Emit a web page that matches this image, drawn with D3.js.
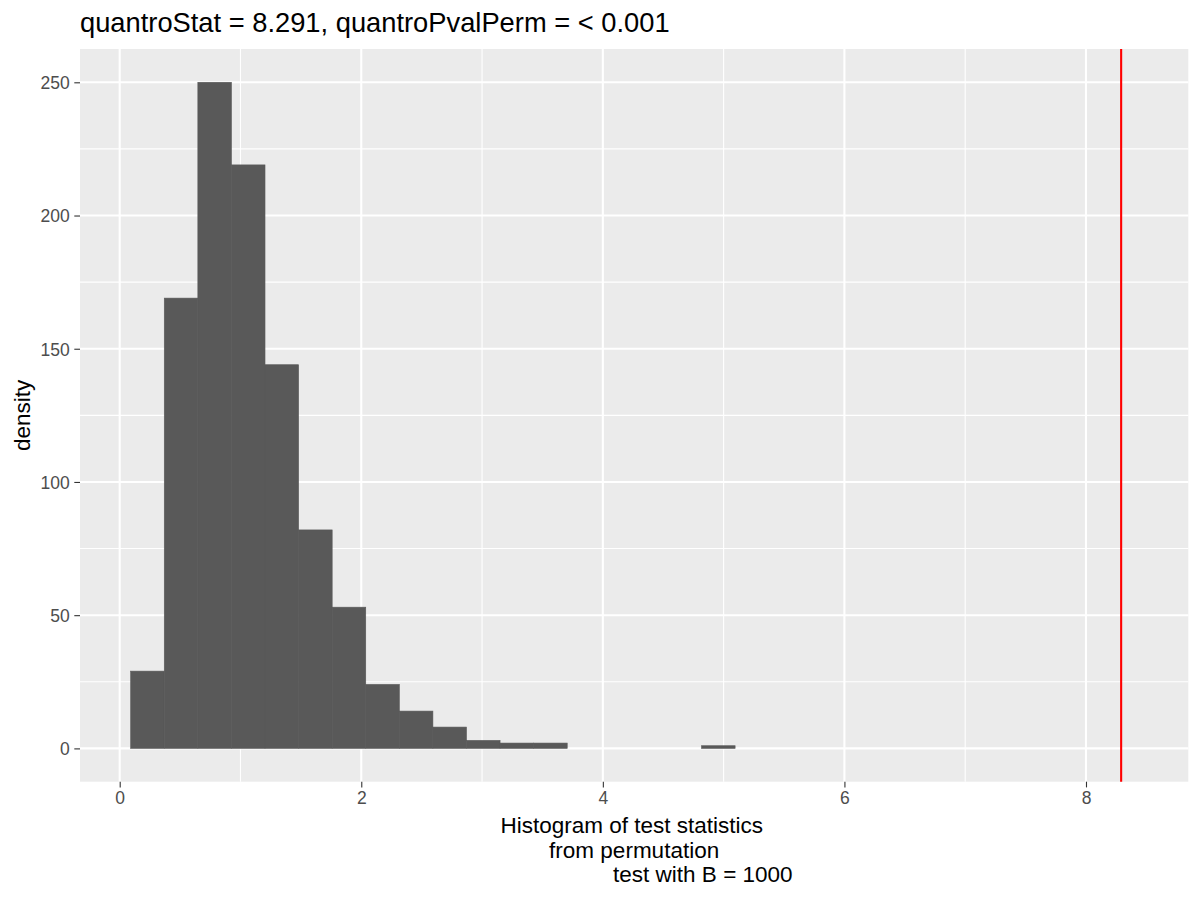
<!DOCTYPE html>
<html>
<head>
<meta charset="utf-8">
<script src="https://cdn.jsdelivr.net/npm/d3@7"></script>
<style>
  body { margin: 0; background: #fff; }
  svg { font-family: "Liberation Sans", Arial, sans-serif; }
</style>
</head>
<body>
<div id="chart"></div>
<script>
// histogram bins (bin start, shared width) and counts
const binStarts = [0.091, 0.369, 0.647, 0.925, 1.203, 1.481, 1.759, 2.037, 2.315,
                   2.593, 2.871, 3.149, 3.427, 3.705, 3.983, 4.261, 4.539, 4.817];
const binWidth = 0.278;
const counts = [29, 169, 250, 219, 144, 82, 53, 24, 14, 8, 3, 2, 2, 0, 0, 0, 0, 1];
const statValue = 8.291;
const xTicks = [0, 2, 4, 6, 8];
const xMinor = [1, 3, 5, 7];
const yTicks = [0, 50, 100, 150, 200, 250];
const yMinor = [25, 75, 125, 175, 225];
const titleText = "quantroStat = 8.291, quantroPvalPerm = < 0.001";
const xTitleLines = ["Histogram of test statistics", "from permutation", "test with B = 1000"];
const xTitleShift = [-2.3, 0, 68.7];

const width = 1200, height = 900;
const panel = { left: 80, right: 1188.3, top: 49, bottom: 781.7 };

const svg = d3.select("#chart")
    .append("svg")
    .attr("width", width)
    .attr("height", height);

const x = d3.scaleLinear()
    .domain([-0.3287, 8.847])
    .range([panel.left, panel.right]);

const y = d3.scaleLinear()
    .domain([-12.5, 262.5])
    .range([panel.bottom, panel.top]);

const data = binStarts.map((s, i) => ({ x0: s, x1: s + binWidth, n: counts[i] }));

// panel background
svg.append("rect")
    .attr("x", panel.left)
    .attr("y", panel.top)
    .attr("width", panel.right - panel.left)
    .attr("height", panel.bottom - panel.top)
    .attr("fill", "#EBEBEB");

// grid
const grid = svg.append("g");
grid.selectAll(".xminor").data(xMinor).enter().append("line")
    .attr("x1", d => x(d)).attr("x2", d => x(d))
    .attr("y1", panel.top).attr("y2", panel.bottom)
    .attr("stroke", "#fff").attr("stroke-width", 1.1);
grid.selectAll(".yminor").data(yMinor).enter().append("line")
    .attr("y1", d => y(d)).attr("y2", d => y(d))
    .attr("x1", panel.left).attr("x2", panel.right)
    .attr("stroke", "#fff").attr("stroke-width", 1.1);
grid.selectAll(".xmajor").data(xTicks).enter().append("line")
    .attr("x1", d => x(d)).attr("x2", d => x(d))
    .attr("y1", panel.top).attr("y2", panel.bottom)
    .attr("stroke", "#fff").attr("stroke-width", 2.1);
grid.selectAll(".ymajor").data(yTicks).enter().append("line")
    .attr("y1", d => y(d)).attr("y2", d => y(d))
    .attr("x1", panel.left).attr("x2", panel.right)
    .attr("stroke", "#fff").attr("stroke-width", 2.1);

// bars
svg.append("g")
    .selectAll("rect")
    .data(data.filter(d => d.n > 0))
    .enter()
    .append("rect")
    .attr("x", d => x(d.x0))
    .attr("width", d => x(d.x1) - x(d.x0))
    .attr("y", d => y(d.n))
    .attr("height", d => y(0) - y(d.n))
    .attr("fill", "#595959")
    .attr("stroke", "#595959")
    .attr("stroke-width", 0.6);

// observed statistic
svg.append("line")
    .attr("x1", x(statValue)).attr("x2", x(statValue))
    .attr("y1", panel.top).attr("y2", panel.bottom)
    .attr("stroke", "#FF0000").attr("stroke-width", 2.1);

// axes
const xAxis = svg.append("g")
    .attr("transform", `translate(0,${panel.bottom})`)
    .call(d3.axisBottom(x).tickValues(xTicks).tickSize(5.7).tickPadding(4.6));
const yAxis = svg.append("g")
    .attr("transform", `translate(${panel.left},0)`)
    .call(d3.axisLeft(y).tickValues(yTicks).tickSize(5.7).tickPadding(4.6));

[xAxis, yAxis].forEach(a => {
    a.select(".domain").remove();
    a.selectAll(".tick line").attr("stroke", "#333333").attr("stroke-width", 1.1);
    a.selectAll(".tick text")
        .attr("fill", "#4D4D4D")
        .style("font-size", "17.5px")
        .style("font-family", "'Liberation Sans', Arial, sans-serif");
});
yAxis.selectAll(".tick text").attr("dy", "0.36em");

// titles
svg.append("text")
    .attr("x", panel.left)
    .attr("y", 32)
    .attr("font-size", 27.3)
    .attr("fill", "#000")
    .text(titleText);

const cx = (panel.left + panel.right) / 2;
svg.append("g")
    .selectAll("text")
    .data(xTitleLines)
    .enter()
    .append("text")
    .attr("x", (d, i) => cx + xTitleShift[i])
    .attr("y", (d, i) => 833 + i * 24.5)
    .attr("text-anchor", "middle")
    .attr("font-size", 22.5)
    .attr("fill", "#000")
    .text(d => d);

svg.append("text")
    .attr("transform", `translate(30,${(panel.top + panel.bottom) / 2}) rotate(-90)`)
    .attr("text-anchor", "middle")
    .attr("font-size", 22.5)
    .attr("fill", "#000")
    .text("density");
</script>
</body>
</html>
